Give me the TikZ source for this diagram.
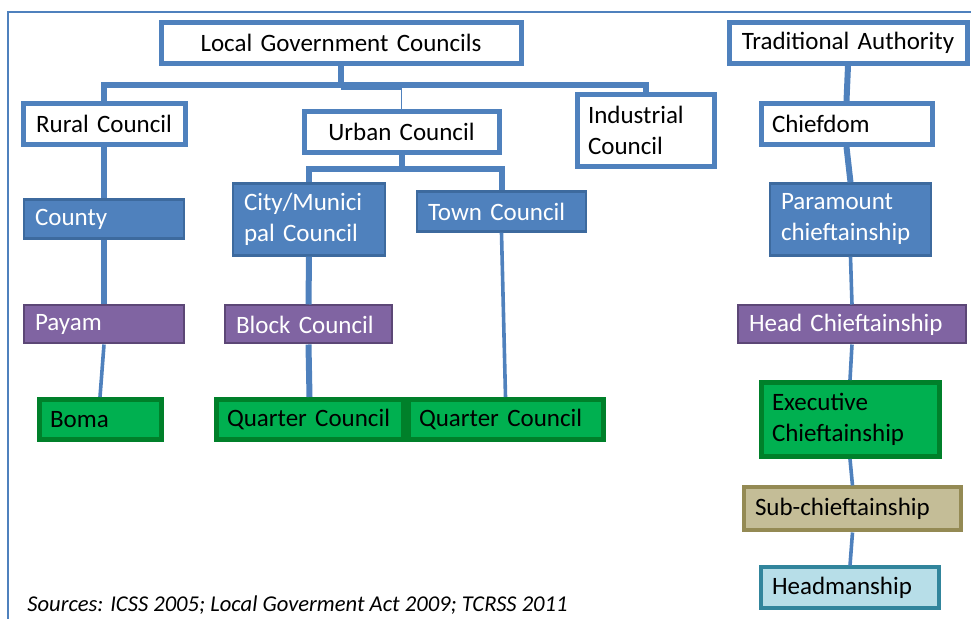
\documentclass[tikz,border=0pt]{standalone}
\usepackage{fontspec}
\setmainfont{Carlito}
\usepackage{tikz}

\definecolor{accblue}{HTML}{4F81BD}
\definecolor{accblueline}{HTML}{3D6A9E}
\definecolor{accpurple}{HTML}{8064A2}
\definecolor{accpurpleline}{HTML}{5C4776}
\definecolor{accgreen}{HTML}{00B050}
\definecolor{accgreenline}{HTML}{00802A}
\definecolor{acctan}{HTML}{C4BD97}
\definecolor{acctanline}{HTML}{948A54}
\definecolor{acccyan}{HTML}{B7DEE8}
\definecolor{acccyanline}{HTML}{31859C}

\tikzset{
  sz/.code 2 args={%
    \pgfmathsetmacro\boxw{#1*0.5-1.5}%
    \pgfmathsetmacro\boxh{#2*0.5-1.5}%
    \pgfmathsetmacro\boxt{#1*0.5-12}%
    \tikzset{minimum width=\boxw pt, minimum height=\boxh pt, text width=\boxt pt}},
  unit/.style={rectangle, inner xsep=5.5pt, inner ysep=2pt, align=left,
    font=\fontsize{12.5}{15.5}\selectfont},
  wbox/.style={unit, draw=accblue, line width=2.5pt, fill=white, text=black},
  bbox/.style={unit, draw=accblueline, line width=1.2pt, fill=accblue, text=white},
  pbox/.style={unit, draw=accpurpleline, line width=1pt, fill=accpurple, text=white},
  gbox/.style={unit, draw=accgreenline, line width=2.5pt, fill=accgreen, text=black},
  tbox/.style={unit, draw=acctanline, line width=2pt, fill=acctan, text=black},
  cbox/.style={unit, draw=acccyanline, line width=2pt, fill=acccyan, text=black},
  tie/.style={draw=accblue, line width=3pt},
  slimtie/.style={draw=accblue, line width=0.8pt},
  midtie/.style={draw=accblue, line width=1.8pt},
}

\begin{document}
\begin{tikzpicture}[x=0.5pt, y=-0.5pt]
\useasboundingbox (0,0) rectangle (971,619);
\draw[accblue, line width=1.2pt] (971,12) -- (8,12) -- (8,619);

% local government side
\node[wbox, sz={362}{44}, align=center] (lgc) at (341,43) {Local Government Councils};
\node[wbox, sz={164}{44}, align=center] (rural) at (104,124) {Rural Council};
\node[wbox, sz={197}{44}, align=center] (urban) at (401.5,132) {Urban Council};
\node[wbox, sz={139}{75}] (indus) at (645.5,130.5) {Industrial\\Council};
\node[bbox, sz={162}{42}] (county) at (104,219) {County};
\node[bbox, sz={154}{75}] (city) at (309,219.5) {City/Munici\\pal Council};
\node[bbox, sz={171}{43}] (town) at (501.5,211.5) {Town Council};
\node[pbox, sz={162}{41}] (payam) at (104,324.5) {Payam};
\node[pbox, sz={169}{41}] (block) at (308.5,324.5) {Block Council};
\node[gbox, sz={124}{43}] (boma) at (100,419.5) {Boma};
\node[gbox, sz={189}{43}] (quarterA) at (309.5,419.5) {Quarter Council};
\node[gbox, sz={197}{43}] (quarterB) at (505.5,419.5) {Quarter Council};

% traditional side
\node[wbox, sz={240}{44}, align=center] (trad) at (848,43) {Traditional Authority};
\node[wbox, sz={173}{44}] (chief) at (846.5,124) {Chiefdom};
\node[bbox, sz={163}{75}] (param) at (850.5,219.5) {Paramount\\chieftainship};
\node[pbox, sz={230}{41}] (head) at (852,324.5) {Head Chieftainship};
\node[gbox, sz={180}{77}] (exec) at (850,419.5) {Executive\\Chieftainship};
\node[tbox, sz={219}{46}] (sub) at (852.5,509) {Sub-chieftainship};
\node[cbox, sz={180}{44}] (headman) at (850,588) {Headmanship};

\node[anchor=base west, inner sep=0pt, font=\fontsize{11.3}{13}\selectfont\itshape] (src) at (27,612)
  {Sources: ICSS 2005; Local Goverment Act 2009; TCRSS 2011};

% connectors
\coordinate (lgcbar) at (341,85);
\coordinate (urbtap) at (341,89);
\coordinate (urbbar) at (401.5,169);
\draw[tie] (lgc.south) -- (lgcbar);
\draw[tie] (rural.north) |- (lgcbar) -| (indus.north);
\draw[slimtie] (urbtap) -| (urban.north);
\draw[tie] (urban.south) -- (urbbar);
\draw[tie] (city.north) |- (urbbar) -| (town.north);
\draw[tie] (rural.south) -- (county.north);
\draw[tie] (county.south) -- (payam.north);
\draw[midtie] (payam.south) -- (boma.north);
\draw[tie] (city.south) -- (block.north);
\draw[tie] (block.south) -- (quarterA.north);
\draw[midtie] (town.south) -- (quarterB.north);
\draw[tie] (trad.south) -- (chief.north);
\draw[tie] (chief.south) -- (param.north);
\draw[midtie] (param.south) -- (head.north);
\draw[midtie] (head.south) -- (exec.north);
\draw[midtie] (exec.south) -- (sub.north);
\draw[midtie] (sub.south) -- (headman.north);
\end{tikzpicture}
\end{document}
